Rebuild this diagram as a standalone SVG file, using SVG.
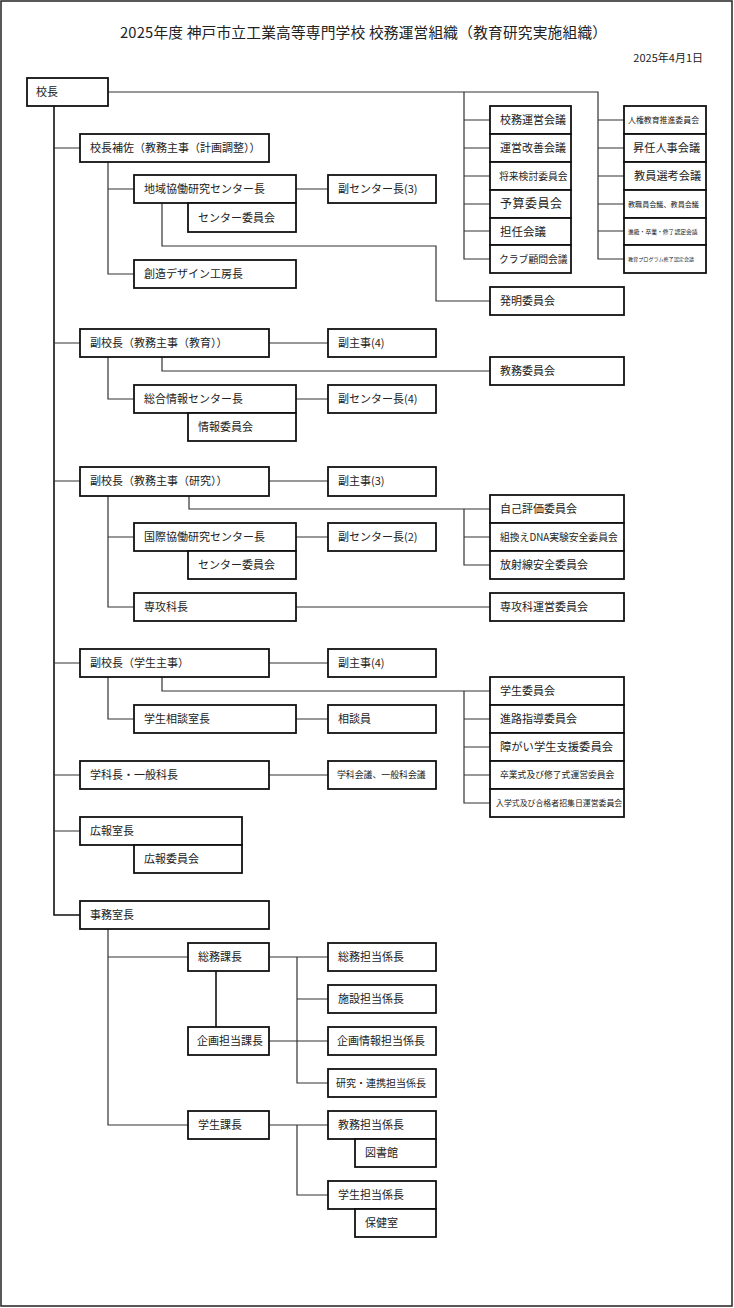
<svg xmlns="http://www.w3.org/2000/svg" width="734" height="1308" viewBox="0 0 734 1308">
<style>
.bg{fill:#fff}
.frame{fill:none;stroke:#222;stroke-width:1.5}
.box{fill:#fff;stroke:#111;stroke-width:1.8}
.t{font-family:"Noto Sans CJK JP","Noto Sans CJK SC",sans-serif;font-size:11px;fill:#222}
.c{fill:none;stroke:#333;stroke-width:1.2}
.m{fill:none;stroke:#111;stroke-width:1.6}
</style>
<rect class="bg" x="0" y="0" width="734" height="1308"/>
<rect class="frame" x="1" y="1" width="731" height="1305"/>
<text class="t" x="120" y="38" style="font-size:14.7px" textLength="487" lengthAdjust="spacing">2025年度 神戸市立工業高等専門学校 校務運営組織（教育研究実施組織）</text>
<text class="t" x="703" y="62" text-anchor="end">2025年4月1日</text>

<g id="connectors">
<path class="m" d="M54,106V915H80"/>
<path class="c" d="M54,148H80M54,343H80M54,481H80M54,663H80M54,775H80M54,831H80"/>
<path class="c" d="M108,92H598V259H624M464,92V259H490"/>
<path class="c" d="M464,120H490M464,148H490M464,176H490M464,204H490M464,231H490"/>
<path class="c" d="M598,120H624M598,148H624M598,176H624M598,204H624M598,231H624"/>
<path class="c" d="M108,162V274H134M108,189H134M296,189H328"/>
<path class="c" d="M162,203V246H436V301H490"/>
<path class="c" d="M269,343H328M162,357V371H490M108,357V399H134M296,399H328"/>
<path class="c" d="M269,481H328M189,496V509H464V565H490M464,509H490M464,537H490"/>
<path class="c" d="M108,496V607H134M108,537H134M296,537H328M296,607H490"/>
<path class="c" d="M269,663H328M162,677V691H464V803H490M464,691H490M464,719H490M464,747H490M464,775H490"/>
<path class="c" d="M108,677V719H134M296,719H328"/>
<path class="c" d="M269,775H328"/>
<path class="c" d="M108,929V1125H188M108,957H188"/>
<path class="c" d="M269,957H328M297,957V1083H328M297,999H328M269,1041H328"/>
<path class="m" d="M216,971V1027"/>
<path class="c" d="M269,1125H328M297,1125V1195H328"/>
</g>

<g id="n-kocho"><rect class="box" x="27" y="78" width="81" height="28"/><text class="t" x="36" y="96">校長</text></g>
<g id="n-hosa"><rect class="box" x="80" y="134" width="189" height="28"/><text class="t" x="90" y="152">校長補佐（教務主事（計画調整））</text></g>
<g id="n-chiiki"><rect class="box" x="134" y="175" width="162" height="28"/><text class="t" x="144" y="193">地域協働研究センター長</text></g>
<g id="n-chiiki-iin"><rect class="box" x="188" y="203" width="108" height="29"/><text class="t" x="198" y="222">センター委員会</text></g>
<g id="n-fuku-c3"><rect class="box" x="328" y="175" width="108" height="28"/><text class="t" x="338" y="193">副センター長(3)</text></g>
<g id="n-sozo"><rect class="box" x="134" y="260" width="162" height="28"/><text class="t" x="144" y="278">創造デザイン工房長</text></g>
<g id="n-hatsumei"><rect class="box" x="490" y="287" width="134" height="28"/><text class="t" x="500" y="305">発明委員会</text></g>

<g id="n-komu-unei"><rect class="box" x="490" y="106" width="81" height="28"/><text class="t" x="500" y="124">校務運営会議</text></g>
<g id="n-unei-kaizen"><rect class="box" x="490" y="134" width="81" height="28"/><text class="t" x="500" y="152">運営改善会議</text></g>
<g id="n-shorai"><rect class="box" x="490" y="162" width="81" height="28"/><text class="t" x="499" y="180" style="font-size:9.8px">将来検討委員会</text></g>
<g id="n-yosan"><rect class="box" x="490" y="190" width="81" height="28"/><text class="t" x="500" y="208" style="font-size:12px;letter-spacing:0.5px">予算委員会</text></g>
<g id="n-tannin"><rect class="box" x="490" y="218" width="81" height="27"/><text class="t" x="500" y="236" style="font-size:11.5px">担任会議</text></g>
<g id="n-club"><rect class="box" x="490" y="245" width="81" height="28"/><text class="t" x="499" y="263" style="font-size:9.8px">クラブ顧問会議</text></g>

<g id="n-jinken"><rect class="box" x="624" y="106" width="82" height="28"/><text class="t" x="628" y="123" style="font-size:7.9px">人権教育推進委員会</text></g>
<g id="n-shonin"><rect class="box" x="624" y="134" width="82" height="28"/><text class="t" x="633" y="152" style="font-size:11.2px">昇任人事会議</text></g>
<g id="n-kyoin-senko"><rect class="box" x="624" y="162" width="82" height="28"/><text class="t" x="634" y="180" style="font-size:11.2px">教員選考会議</text></g>
<g id="n-kyoshokuin"><rect class="box" x="624" y="190" width="82" height="28"/><text class="t" x="628" y="207" style="font-size:7.1px">教職員会議、教員会議</text></g>
<g id="n-shinkyu"><rect class="box" x="624" y="218" width="82" height="27"/><text class="t" x="628" y="234" style="font-size:5.8px">進級・卒業・修了認定会議</text></g>
<g id="n-program"><rect class="box" x="624" y="245" width="82" height="28"/><text class="t" x="628" y="261" style="font-size:5.1px">教育プログラム修了認定会議</text></g>

<g id="n-fuku-kyoiku"><rect class="box" x="80" y="329" width="189" height="28"/><text class="t" x="90" y="347">副校長（教務主事（教育））</text></g>
<g id="n-fukushuji4a"><rect class="box" x="328" y="329" width="108" height="28"/><text class="t" x="338" y="347">副主事(4)</text></g>
<g id="n-kyomu-iin"><rect class="box" x="490" y="357" width="134" height="28"/><text class="t" x="500" y="375">教務委員会</text></g>
<g id="n-sogo"><rect class="box" x="134" y="385" width="162" height="28"/><text class="t" x="144" y="403">総合情報センター長</text></g>
<g id="n-joho"><rect class="box" x="188" y="413" width="108" height="28"/><text class="t" x="198" y="431">情報委員会</text></g>
<g id="n-fuku-c4"><rect class="box" x="328" y="385" width="108" height="28"/><text class="t" x="338" y="403">副センター長(4)</text></g>

<g id="n-fuku-kenkyu"><rect class="box" x="80" y="467" width="189" height="29"/><text class="t" x="90" y="485">副校長（教務主事（研究））</text></g>
<g id="n-fukushuji3"><rect class="box" x="328" y="467" width="108" height="29"/><text class="t" x="338" y="485">副主事(3)</text></g>
<g id="n-jiko"><rect class="box" x="490" y="495" width="134" height="28"/><text class="t" x="500" y="513">自己評価委員会</text></g>
<g id="n-dna"><rect class="box" x="490" y="523" width="134" height="28"/><text class="t" x="500" y="541" style="font-size:9.8px">組換えDNA実験安全委員会</text></g>
<g id="n-hoshasen"><rect class="box" x="490" y="551" width="134" height="28"/><text class="t" x="500" y="569">放射線安全委員会</text></g>
<g id="n-kokusai"><rect class="box" x="134" y="523" width="162" height="28"/><text class="t" x="144" y="541">国際協働研究センター長</text></g>
<g id="n-kokusai-iin"><rect class="box" x="188" y="551" width="108" height="28"/><text class="t" x="198" y="569">センター委員会</text></g>
<g id="n-fuku-c2"><rect class="box" x="328" y="523" width="108" height="28"/><text class="t" x="338" y="541">副センター長(2)</text></g>
<g id="n-senkoka"><rect class="box" x="134" y="593" width="162" height="28"/><text class="t" x="144" y="611">専攻科長</text></g>
<g id="n-senkoka-unei"><rect class="box" x="490" y="593" width="134" height="28"/><text class="t" x="500" y="611">専攻科運営委員会</text></g>

<g id="n-fuku-gakusei"><rect class="box" x="80" y="649" width="189" height="28"/><text class="t" x="90" y="667">副校長（学生主事）</text></g>
<g id="n-fukushuji4b"><rect class="box" x="328" y="649" width="108" height="28"/><text class="t" x="338" y="667">副主事(4)</text></g>
<g id="n-gakusei-iin"><rect class="box" x="490" y="677" width="134" height="28"/><text class="t" x="500" y="695">学生委員会</text></g>
<g id="n-shinro"><rect class="box" x="490" y="705" width="134" height="28"/><text class="t" x="500" y="723">進路指導委員会</text></g>
<g id="n-shogai"><rect class="box" x="490" y="733" width="134" height="28"/><text class="t" x="500" y="751" style="font-size:11.3px">障がい学生支援委員会</text></g>
<g id="n-sotsugyo"><rect class="box" x="490" y="761" width="134" height="28"/><text class="t" x="500" y="778" style="font-size:8.8px">卒業式及び修了式運営委員会</text></g>
<g id="n-nyugaku"><rect class="box" x="490" y="789" width="134" height="28"/><text class="t" x="496" y="806" style="font-size:7.9px">入学式及び合格者招集日運営委員会</text></g>
<g id="n-sodan-shitsu"><rect class="box" x="134" y="705" width="162" height="28"/><text class="t" x="144" y="723">学生相談室長</text></g>
<g id="n-sodanin"><rect class="box" x="328" y="705" width="108" height="28"/><text class="t" x="338" y="723">相談員</text></g>
<g id="n-gakka"><rect class="box" x="80" y="761" width="189" height="28"/><text class="t" x="90" y="779">学科長・一般科長</text></g>
<g id="n-gakka-kaigi"><rect class="box" x="328" y="761" width="108" height="28"/><text class="t" x="337" y="778" style="font-size:8.9px">学科会議、一般科会議</text></g>
<g id="n-koho"><rect class="box" x="80" y="817" width="162" height="28"/><text class="t" x="90" y="835">広報室長</text></g>
<g id="n-koho-iin"><rect class="box" x="134" y="845" width="108" height="28"/><text class="t" x="144" y="863">広報委員会</text></g>

<g id="n-jimu"><rect class="box" x="80" y="901" width="189" height="28"/><text class="t" x="90" y="919">事務室長</text></g>
<g id="n-somu-ka"><rect class="box" x="188" y="943" width="81" height="28"/><text class="t" x="198" y="961">総務課長</text></g>
<g id="n-kikaku-ka"><rect class="box" x="188" y="1027" width="81" height="28"/><text class="t" x="197" y="1045">企画担当課長</text></g>
<g id="n-gakusei-ka"><rect class="box" x="188" y="1111" width="81" height="28"/><text class="t" x="198" y="1129">学生課長</text></g>
<g id="n-somu-kakari"><rect class="box" x="328" y="943" width="108" height="28"/><text class="t" x="338" y="961">総務担当係長</text></g>
<g id="n-shisetsu"><rect class="box" x="328" y="985" width="108" height="28"/><text class="t" x="338" y="1003">施設担当係長</text></g>
<g id="n-kikaku-joho"><rect class="box" x="328" y="1027" width="108" height="28"/><text class="t" x="337" y="1045">企画情報担当係長</text></g>
<g id="n-kenkyu-renkei"><rect class="box" x="328" y="1069" width="108" height="28"/><text class="t" x="336" y="1087" style="font-size:10px">研究・連携担当係長</text></g>
<g id="n-kyomu-kakari"><rect class="box" x="328" y="1111" width="108" height="28"/><text class="t" x="338" y="1129">教務担当係長</text></g>
<g id="n-tosho"><rect class="box" x="355" y="1139" width="81" height="28"/><text class="t" x="365" y="1157">図書館</text></g>
<g id="n-gakusei-kakari"><rect class="box" x="328" y="1181" width="108" height="28"/><text class="t" x="338" y="1199">学生担当係長</text></g>
<g id="n-hoken"><rect class="box" x="355" y="1209" width="81" height="28"/><text class="t" x="365" y="1227">保健室</text></g>
</svg>
